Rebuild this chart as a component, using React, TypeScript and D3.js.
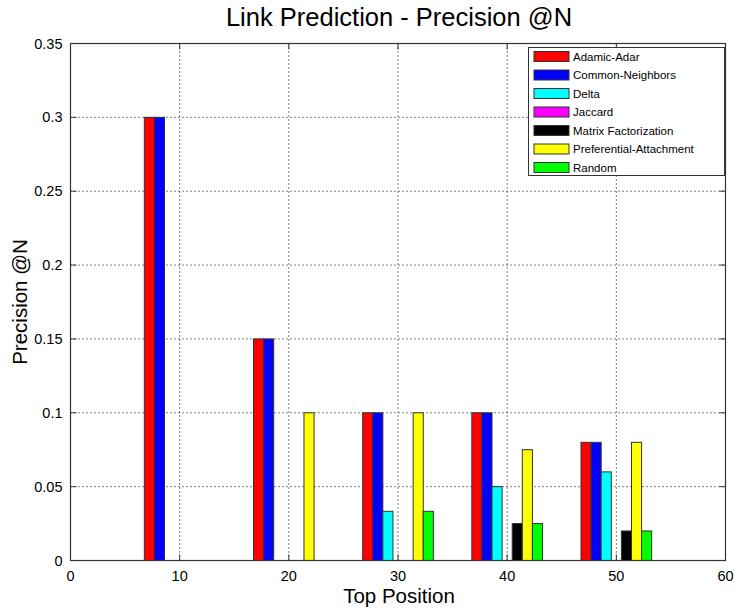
import React from "react";
import * as d3 from "d3";

const groups = [10, 20, 30, 40, 50];
const seriesNames = [
  "Adamic-Adar",
  "Common-Neighbors",
  "Delta",
  "Jaccard",
  "Matrix Factorization",
  "Preferential-Attachment",
  "Random",
];
const seriesColors = ["#ff0000", "#0000ff", "#00ffff", "#ff00ff", "#000000", "#ffff00", "#00ff00"];
const adamicAdar = [0.3, 0.15, 0.1, 0.1, 0.08];
const commonNeighbors = [0.3, 0.15, 0.1, 0.1, 0.08];
const delta = [0, 0, 0.0333, 0.05, 0.06];
const jaccard = [0, 0, 0, 0, 0];
const matrixFactorization = [0, 0, 0, 0.025, 0.02];
const preferentialAttachment = [0, 0.1, 0.1, 0.075, 0.08];
const random = [0, 0, 0.0333, 0.025, 0.02];
const seriesValues = [adamicAdar, commonNeighbors, delta, jaccard, matrixFactorization, preferentialAttachment, random];
const xTicks = [0, 10, 20, 30, 40, 50, 60];
const yTicks = [0, 0.05, 0.1, 0.15, 0.2, 0.25, 0.3, 0.35];

export default function App() {
  const W = 735, H = 610;
  const L = 70.5, R = 725.5, T = 43.5, B = 560.5;
  const x = d3.scaleLinear().domain([0, 60]).range([L, R]);
  const y = d3.scaleLinear().domain([0, 0.35]).range([B, T]);
  const bw = 0.925;
  const font = "'Liberation Sans', Arial, sans-serif";
  const yFmt = (v: number) => (v === 0 ? "0" : String(+v.toFixed(2)));
  return (
    <svg width={W} height={H} style={{ position: "absolute", left: 0, top: 0, background: "#fff" }} fontFamily={font}>
      <rect x={0} y={0} width={W} height={H} fill="#fff" />
      {/* grid */}
      {xTicks.slice(1, -1).map((t) => (
        <line key={"gx" + t} x1={x(t)} x2={x(t)} y1={T} y2={B} stroke="#000" strokeWidth={1} strokeDasharray="1,3" />
      ))}
      {yTicks.slice(1, -1).map((t) => (
        <line key={"gy" + t} x1={L} x2={R} y1={y(t)} y2={y(t)} stroke="#000" strokeWidth={1} strokeDasharray="1,3" />
      ))}
      {/* bars */}
      {seriesValues.map((vals, si) =>
        vals.map((v, gi) => {
          const cx = groups[gi] + (si - 3) * bw;
          const x0 = x(cx - bw / 2);
          const x1 = x(cx + bw / 2);
          return (
            <rect
              key={si + "-" + gi}
              x={x0}
              y={y(v)}
              width={x1 - x0}
              height={y(0) - y(v)}
              fill={seriesColors[si]}
              stroke="#333"
              strokeWidth={1}
            />
          );
        })
      )}
      {/* axes box */}
      <rect x={L} y={T} width={R - L} height={B - T} fill="none" stroke="#333" strokeWidth={1.2} />
      {xTicks.map((t) => (
        <g key={"tx" + t}>
          <line x1={x(t)} x2={x(t)} y1={B} y2={B - 6} stroke="#333" />
          <line x1={x(t)} x2={x(t)} y1={T} y2={T + 6} stroke="#333" />
          <text x={x(t)} y={B + 20} textAnchor="middle" fontSize={14.5} fill="#000">{t}</text>
        </g>
      ))}
      {yTicks.map((t) => (
        <g key={"ty" + t}>
          <line x1={L} x2={L + 6} y1={y(t)} y2={y(t)} stroke="#333" />
          <line x1={R} x2={R - 6} y1={y(t)} y2={y(t)} stroke="#333" />
          <text x={L - 8} y={y(t) + 5} textAnchor="end" fontSize={14.5} fill="#000">{yFmt(t)}</text>
        </g>
      ))}
      {/* title & labels */}
      <text x={(L + R) / 2 + 1} y={26} textAnchor="middle" fontSize={25.5} fill="#000">Link Prediction - Precision @N</text>
      <text x={(L + R) / 2 + 1} y={603} textAnchor="middle" fontSize={20.5} fill="#000">Top Position</text>
      <text transform={`translate(27,${(T + B) / 2}) rotate(-90)`} textAnchor="middle" fontSize={20.5} fill="#000">Precision @N</text>
      {/* legend */}
      <g>
        <rect x={528.5} y={47.5} width={196} height={128} fill="#fff" stroke="#333" strokeWidth={1} />
        {seriesNames.map((n, i) => {
          const cy = 56.5 + i * 18.5;
          return (
            <g key={n}>
              <rect x={534} y={cy - 5} width={35} height={10} fill={seriesColors[i]} stroke="#333" strokeWidth={1} />
              <text x={573} y={cy + 4} fontSize={11.5} fill="#000">{n}</text>
            </g>
          );
        })}
      </g>
    </svg>
  );
}
